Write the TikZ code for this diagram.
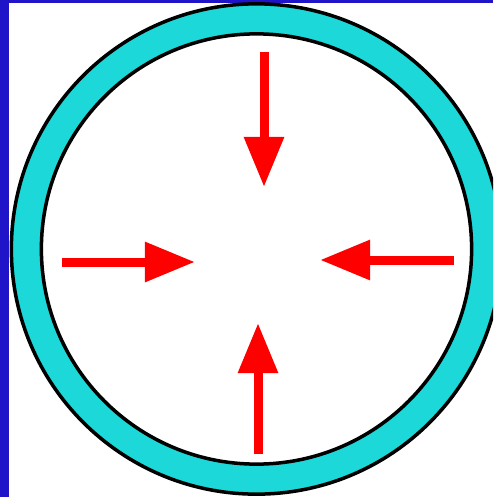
\documentclass[tikz,border=0pt]{standalone}
\usetikzlibrary{arrows.meta}
\definecolor{slideblue}{RGB}{32,20,200}
\definecolor{ringcyan}{RGB}{28,216,216}
\tikzset{
  push/.style={-{Triangle[length=0.5cm, width=0.38cm]}, line width=0.09cm, red},
  ring/.style={draw=black, line width=0.035cm, fill=ringcyan, even odd rule}
}
\begin{document}
\begin{tikzpicture}[x=0.01cm, y=-0.01cm]
        \useasboundingbox (0,0) rectangle (493,497);
        \clip (0,0) rectangle (493,497);
        % Background
        \fill[slideblue] (0,0) rectangle (493,497);
        \fill[white] (9,3) rectangle (493,497);

        % Nodes
        \coordinate (O) at (256.5,249);
        \coordinate (top-start) at (264,52);
        \coordinate (top-end) at (264,187);
        \coordinate (bottom-start) at (258,454);
        \coordinate (bottom-end) at (258,323);
        \coordinate (left-start) at (62,262);
        \coordinate (left-end) at (195,262);
        \coordinate (right-start) at (454,260);
        \coordinate (right-end) at (320,260);

        % Ring
        \path[ring] (O) circle[radius=2.45cm] (O) circle[radius=2.15cm];

        % Edges
        \draw[push] (top-start) -- (top-end);
        \draw[push] (bottom-start) -- (bottom-end);
        \draw[push] (left-start) -- (left-end);
        \draw[push] (right-start) -- (right-end);
\end{tikzpicture}
\end{document}
